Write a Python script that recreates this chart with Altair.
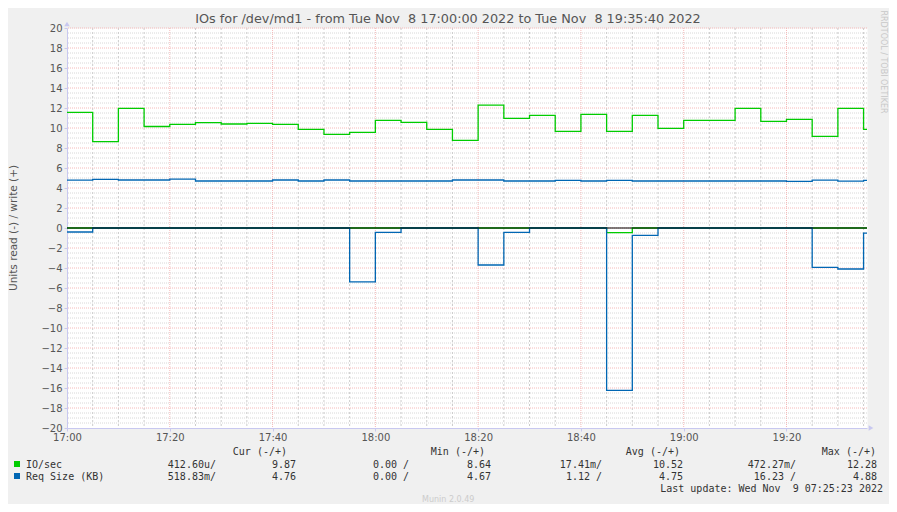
import altair as alt
import pandas as pd

# ---- data (5-minute steps from 17:00, end 19:35:40) ----
times = ["17:00", "17:05", "17:10", "17:15", "17:20", "17:25", "17:30", "17:35",
         "17:40", "17:45", "17:50", "17:55", "18:00", "18:05", "18:10", "18:15",
         "18:20", "18:25", "18:30", "18:35", "18:40", "18:45", "18:50", "18:55",
         "19:00", "19:05", "19:10", "19:15", "19:20", "19:25", "19:30", "19:35"]
end_time = "19:35:40"

io_write = [11.57, 8.64, 11.97, 10.15, 10.37, 10.53, 10.40, 10.47,
            10.37, 9.87, 9.37, 9.57, 10.77, 10.57, 9.87, 8.77,
            12.28, 10.97, 11.27, 9.67, 11.37, 9.67, 11.27, 9.97,
            10.77, 10.77, 11.97, 10.67, 10.87, 9.17, 11.97, 9.87]
io_read = [0, 0, 0, 0, 0, 0, 0, 0,
           0, 0, 0, 0, 0, 0, 0, 0,
           0, 0, 0, 0, 0, 0.47, 0, 0,
           0, 0, 0, 0, 0, 0, 0, 0.0004]
req_write = [4.78, 4.87, 4.80, 4.80, 4.88, 4.70, 4.70, 4.70,
             4.80, 4.70, 4.80, 4.70, 4.70, 4.70, 4.70, 4.80,
             4.80, 4.70, 4.70, 4.77, 4.70, 4.77, 4.70, 4.70,
             4.70, 4.70, 4.70, 4.70, 4.67, 4.78, 4.68, 4.76]
req_read = [0.40, 0, 0, 0, 0, 0, 0, 0,
            0, 0, 0, 5.38, 0.43, 0, 0, 0,
            3.70, 0.43, 0, 0, 0, 16.23, 0.73, 0,
            0, 0, 0, 0, 0, 3.93, 4.10, 0.52]

title_text = "IOs for /dev/md1 - from Tue Nov \u00a08 17:00:00 2022 to Tue Nov \u00a08 19:35:40 2022"
y_title = "Units read (-) / write (+)"
legend_names = ["IO/sec", "Req Size (KB)"]
legend_headers = ["Cur (-/+)", "Min (-/+)", "Avg (-/+)", "Max (-/+)"]
legend_row1 = ["412.60u/", "9.87", "0.00 /", "8.64", "17.41m/", "10.52", "472.27m/", "12.28"]
legend_row2 = ["518.83m/", "4.76", "0.00 /", "4.67", "1.12 /", "4.75", "16.23 /", "4.88"]
last_update = "Last update: Wed Nov \u00a09 07:25:23 2022"
footer = "Munin 2.0.49"
side_text = "RRDTOOL / TOBI OETIKER"

GREEN = "#00cc00"
BLUE = "#0066b3"


def to_min(s):
    parts = [int(p) for p in s.split(":")]
    while len(parts) < 3:
        parts.append(0)
    return (parts[0] - 17) * 60 + parts[1] + parts[2] / 60.0


tmins = [to_min(t) for t in times] + [to_min(end_time)]
END = tmins[-1]

rows = []
for name, vals, sign in [("io_r", io_read, -1), ("io_w", io_write, 1),
                         ("req_r", req_read, -1), ("req_w", req_write, 1)]:
    ext = vals + [vals[-1]]
    for t, v in zip(tmins, ext):
        rows.append({"t": t, "v": sign * v, "series": name})
df = pd.DataFrame(rows)

W, H = 800, 400
time_expr = ("floor((1020 + datum.value) / 60) + ':' + "
             "((((1020 + datum.value) % 60) < 10) ? '0' : '') + ((1020 + datum.value) % 60)")

xscale = alt.Scale(domain=[0, END], nice=False, zero=False)
yscale = alt.Scale(domain=[-20, 20], nice=False, zero=False)

x_axis = alt.Axis(values=list(range(0, 156, 20)), labelExpr=time_expr, grid=False,
                  domainColor="#c8c8f0", tickColor="#c8c8f0", tickSize=3,
                  labelFont="DejaVu Sans", labelFontSize=10, labelColor="#555555",
                  labelPadding=1, labelFlush=False, labelOverlap=False, title=None)
y_axis = alt.Axis(values=list(range(-20, 21, 2)), grid=False,
                  domainColor="#c8c8f0", tickColor="#c8c8f0", tickSize=3,
                  labelFont="DejaVu Sans", labelFontSize=10, labelColor="#555555",
                  labelPadding=2, labelOverlap=False, title=None)

# grids
vminor = pd.DataFrame({"t": [m for m in range(5, 156, 5) if m % 20 != 0]})
vmajor = pd.DataFrame({"t": [m for m in range(20, 156, 20)]})
hminor = pd.DataFrame({"y": [k / 2 for k in range(-40, 41) if k % 4 != 0]})
hmajor = pd.DataFrame({"y": [k for k in range(-18, 21, 2)]})

grid_hmin = alt.Chart(hminor).mark_rule(color="#d8d8d8", strokeDash=[1, 1], strokeWidth=1).encode(
    y=alt.Y("y:Q", scale=yscale, axis=y_axis))
grid_vmin = alt.Chart(vminor).mark_rule(color="#cccccc", strokeDash=[2, 2], strokeWidth=1).encode(
    x=alt.X("t:Q", scale=xscale, axis=x_axis))
grid_hmaj = alt.Chart(hmajor).mark_rule(color="#f5baba", strokeDash=[1, 1], strokeWidth=1).encode(
    y=alt.Y("y:Q", scale=yscale, axis=y_axis))
grid_vmaj = alt.Chart(vmajor).mark_rule(color="#f5baba", strokeDash=[1, 1], strokeWidth=1).encode(
    x=alt.X("t:Q", scale=xscale, axis=x_axis))

lines = alt.Chart(df).mark_line(interpolate="step-after", strokeWidth=1.3).encode(
    x=alt.X("t:Q", scale=xscale, axis=x_axis),
    y=alt.Y("v:Q", scale=yscale, axis=y_axis),
    color=alt.Color("series:N", legend=None,
                    scale=alt.Scale(domain=["io_r", "io_w", "req_r", "req_w"],
                                    range=[GREEN, GREEN, BLUE, BLUE])),
    detail="series:N",
    order="t:Q",
)

zero = alt.Chart(pd.DataFrame({"y": [0]})).mark_rule(color="#000000", strokeWidth=1.2).encode(
    y=alt.Y("y:Q", scale=yscale, axis=y_axis))

# axis arrows
arrow_up = alt.Chart(pd.DataFrame({"a": [1]})).mark_point(
    shape="triangle-up", filled=True, size=30, color="#c8c8f0", opacity=1).encode(
    x=alt.value(0), y=alt.value(-4))
arrow_right = alt.Chart(pd.DataFrame({"a": [1]})).mark_point(
    shape="triangle-right", filled=True, size=30, color="#c8c8f0", opacity=1).encode(
    x=alt.value(W + 4), y=alt.value(H))


def txt(text, x, y, align="left", size=10, color="#333333", font="DejaVu Sans Mono", angle=0):
    return alt.Chart(pd.DataFrame({"s": [text]})).mark_text(
        align=align, baseline="middle", fontSize=size, color=color, font=font, angle=angle
    ).encode(x=alt.value(x), y=alt.value(y), text="s:N")


texts = [
    txt(title_text, 381, -9, align="center", size=12.8, color="#555555", font="DejaVu Sans"),
    txt(y_title, -53, 200, align="center", size=10.5, color="#555555", font="DejaVu Sans", angle=270),
    txt(side_text, 816, 34, align="center", size=8, color="#c8c8c8", font="DejaVu Sans", angle=90),
]
header_x = [220, 418, 613, 809]
for h, xx in zip(legend_headers, header_x):
    texts.append(txt(h, xx, 424, align="right"))
col_x = [149, 229, 342, 424, 535, 616, 729, 810]
for v, xx in zip(legend_row1, col_x):
    texts.append(txt(v, xx, 436.5, align="right"))
for v, xx in zip(legend_row2, col_x):
    texts.append(txt(v, xx, 448.5, align="right"))
texts.append(txt(legend_names[0], -41, 436.5))
texts.append(txt(legend_names[1], -41, 448.5))
texts.append(txt(last_update, 816, 460.5, align="right"))
texts.append(txt(footer, 355, 472, size=8, color="#cccccc", font="DejaVu Sans"))

sq_green = alt.Chart(pd.DataFrame({"a": [1]})).mark_square(size=36, opacity=1, color=GREEN).encode(
    x=alt.value(-50), y=alt.value(436))
sq_blue = alt.Chart(pd.DataFrame({"a": [1]})).mark_square(size=36, opacity=1, color=BLUE).encode(
    x=alt.value(-50), y=alt.value(448))

chart = alt.layer(
    grid_hmin, grid_vmin, grid_hmaj, grid_vmaj, lines, zero, arrow_up, arrow_right,
    sq_green, sq_blue, *texts
).properties(
    width=W, height=H, background="#f0f0f0",
    padding={"left": 59, "top": 20, "right": 22, "bottom": 76},
    autosize=alt.AutoSizeParams(type="none"),
).configure_view(fill="white", stroke="transparent")

chart.save("out.html", embed_options={"renderer": "svg", "actions": False})
